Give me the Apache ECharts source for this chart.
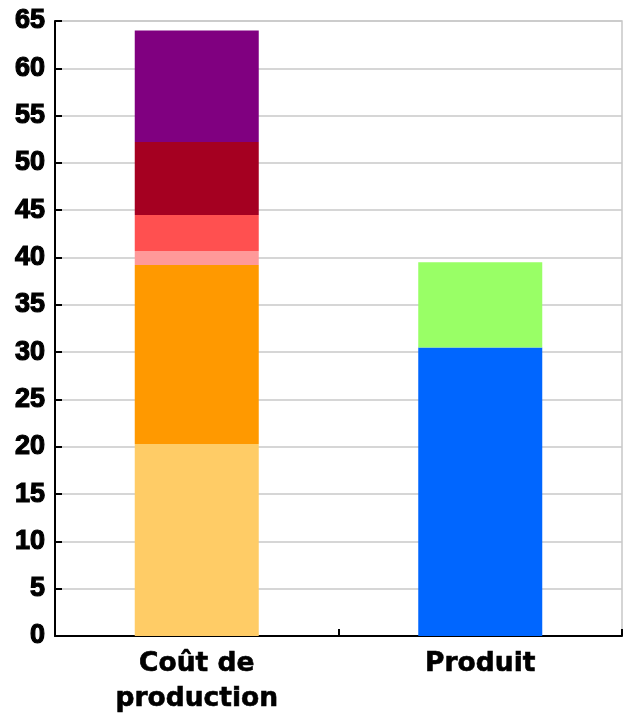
<!DOCTYPE html>
<html>
<head>
<meta charset="utf-8">
<script src="https://cdn.jsdelivr.net/npm/echarts@6/dist/echarts.min.js"></script>
<style>html,body{margin:0;padding:0;background:#fff}#c{width:627px;height:713px}</style>
</head>
<body>
<div id="c"></div>
<script>
const categories = ['Coût de\nproduction', 'Produit'];
const segNames = ['Seg 1', 'Seg 2', 'Seg 3', 'Seg 4', 'Seg 5', 'Seg 6', 'Seg 7', 'Seg 8'];
const segColors = ['#ffcc66', '#ff9900', '#ff9999', '#ff5050', '#a50021', '#800080', '#0066ff', '#99ff66'];
// values per segment: [Coût de production, Produit]
const seg1 = [20.3, null];
const seg2 = [18.9, null];
const seg3 = [1.5, null];
const seg4 = [3.8, null];
const seg5 = [7.7, null];
const seg6 = [11.8, null];
const seg7 = [null, 30.5];
const seg8 = [null, 9.0];
const segData = [seg1, seg2, seg3, seg4, seg5, seg6, seg7, seg8];
const yTicks = {min: 0, max: 65, interval: 5};

const chart = echarts.init(document.getElementById('c'), null, {renderer: 'canvas'});
const yFont = '"Liberation Sans", Arial, sans-serif';
const xFont = '"DejaVu Sans", "Liberation Sans", sans-serif';
chart.setOption({
  animation: false,
  grid: {left: 55, right: 5, top: 21, bottom: 77, containLabel: false, outerBoundsMode: 'none',
         show: true, borderColor: '#c8c8c8', borderWidth: 1.5, backgroundColor: 'transparent'},
  xAxis: {
    type: 'category',
    data: categories,
    axisLine: {lineStyle: {color: '#000', width: 2}},
    axisTick: {show: true, inside: true, length: 7, lineStyle: {color: '#000', width: 2}},
    axisLabel: {color: '#000', fontSize: 26.5, fontWeight: 'bold', fontFamily: xFont, lineHeight: 35, margin: 11,
                textBorderColor: '#000', textBorderWidth: 0.6}
  },
  yAxis: {
    type: 'value',
    min: yTicks.min, max: yTicks.max, interval: yTicks.interval,
    axisLine: {show: true, lineStyle: {color: '#000', width: 2}},
    axisTick: {show: true, inside: true, length: 7, lineStyle: {color: '#000', width: 2}},
    axisLabel: {color: '#000', fontSize: 27, fontWeight: 'bold', fontFamily: yFont, margin: 10,
                textBorderColor: '#000', textBorderWidth: 1.2},
    splitLine: {show: true, lineStyle: {color: '#c8c8c8', width: 1.5}}
  },
  series: segData.map((d, i) => ({
    name: segNames[i],
    type: 'bar',
    stack: 'total',
    barWidth: 124,
    data: d,
    itemStyle: {color: segColors[i]}
  }))
});
</script>
</body>
</html>
